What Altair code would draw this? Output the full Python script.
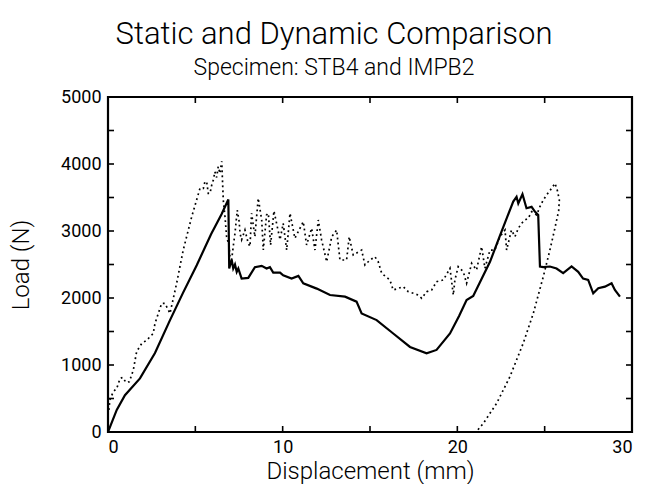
import altair as alt
import pandas as pd

# Static test STB4 (solid line)
static_x = [0, 0.5, 0.97, 1.83, 2.69, 3.55, 4.3, 5.08, 5.9, 6.5, 6.89, 6.94, 7.08, 7.17, 7.27,
            7.37, 7.46, 7.65, 8.03, 8.41, 8.8, 9.08, 9.27, 9.46, 9.85, 10.03, 10.51, 10.9, 11.18,
            11.95, 12.71, 13.57, 14.23, 14.52, 15.38, 16.33, 17.29, 18.24, 18.81, 19.58, 20.1,
            20.53, 20.91, 21.4, 21.87, 22.44, 23.2, 23.39, 23.49, 23.73, 23.96, 24.25, 24.44,
            24.63, 24.73, 24.92, 25.3, 25.68, 26.06, 26.54, 26.92, 27.2, 27.49, 27.78, 28.07,
            28.45, 28.83, 29.02, 29.31]
static_y = [0, 330, 550, 800, 1180, 1670, 2080, 2490, 2950, 3250, 3470, 2440, 2570, 2440, 2500,
            2390, 2440, 2290, 2300, 2460, 2480, 2440, 2460, 2380, 2380, 2340, 2290, 2330, 2220,
            2140, 2045, 2020, 1945, 1770, 1670, 1470, 1270, 1175, 1225, 1470, 1730,
            1970, 2030, 2290, 2540, 2930, 3440, 3510, 3410, 3550, 3340, 3360, 3290,
            3240, 2470, 2460, 2470, 2440, 2370, 2470, 2390, 2290, 2270, 2070, 2145,
            2170, 2220, 2120, 2020]

# Dynamic test IMPB2 (dotted line), in recorded order (loading then unloading)
dyn_x = [0.05, 0.11, 0.3, 0.5, 0.69, 0.84, 1.03, 1.22, 1.45, 1.64, 1.93, 2.21, 2.4, 2.59, 2.69,
         3.07, 3.26, 3.55, 3.93, 4.31, 4.79, 5.27, 5.46, 5.55, 5.65, 5.74, 5.84, 5.95, 6.03,
         6.12, 6.22, 6.31, 6.41, 6.51, 6.6, 6.7, 6.79, 6.94, 6.98, 7.08, 7.17, 7.27, 7.4, 7.51,
         7.56, 7.65, 7.84, 8.03, 8.13, 8.22, 8.41, 8.6, 8.8, 8.89, 9.08, 9.18, 9.31, 9.5, 9.85,
         10.03, 10.23, 10.42, 10.7, 11.18, 11.37, 11.66, 11.85, 12.04, 12.23, 12.52, 12.81,
         13.09, 13.28, 13.66, 13.81, 14.04, 14.52, 14.71, 15.0, 15.28, 15.47, 15.67, 16.14,
         16.33, 16.9, 17.19, 17.48, 17.76, 17.96, 18.24, 18.53, 18.81, 19.2, 19.58, 19.77,
         19.86, 20.05, 20.34, 20.53, 20.82, 21.1, 21.39, 21.58, 21.87, 22.15, 22.44, 22.73,
         22.82, 23.1, 23.3, 23.49, 23.68, 23.87, 24.06, 24.25, 24.54, 24.73, 24.92, 25.11,
         25.4, 25.59, 25.72, 25.84, 25.8, 25.55, 25.3, 24.92, 24.35, 23.77, 23.01, 22.25,
         21.49, 21.07]
dyn_y = [330, 480, 600, 650, 800, 815, 740, 750, 925, 1200, 1320, 1370, 1420, 1470, 1620,
         1920, 1920, 1770, 2220, 2720, 3210, 3640, 3637, 3736, 3736, 3562, 3560, 3700, 3760,
         3885, 3800, 3960, 3860, 4040, 3460, 3210, 2915, 2770, 2620, 2570, 2770, 2965, 3310, 3140,
         2965, 2870, 3015, 2816, 2770, 3264, 2915, 3490, 3164, 2716, 3240, 3264, 2791, 3300, 2870,
         3114, 2716, 3264, 2891, 3139, 2791, 3040, 2716, 3164, 2866, 2542, 2915,
         3015, 2567, 2567, 2915, 2642, 2716, 2493, 2567, 2617, 2542, 2368, 2269,
         2119, 2169, 2094, 2070, 2045, 1995, 2094, 2119, 2244, 2269, 2443, 2045,
         2269, 2467, 2393, 2219, 2518, 2418, 2766, 2443, 2716, 2716, 2915, 3015,
         2716, 3015, 2915, 3040, 3114, 3164, 3189, 3288, 3239, 3363, 3463, 3537,
         3637, 3711, 3612, 3463, 3300, 3000, 2716, 2318, 1771, 1323, 825, 428,
         130, 0]

x_labels = [0, 10, 20, 30]
x_ticks = [0, 5, 10, 15, 20, 25, 30]
y_labels = [0, 1000, 2000, 3000, 4000, 5000]
y_ticks = [0, 500, 1000, 1500, 2000, 2500, 3000, 3500, 4000, 4500, 5000]

rows = []
for i, (a, b) in enumerate(zip(static_x, static_y)):
    rows.append({"disp": a, "load": b, "test": "STB4", "i": i})
for i, (a, b) in enumerate(zip(dyn_x, dyn_y)):
    rows.append({"disp": a, "load": b, "test": "IMPB2", "i": i})
df = pd.DataFrame(rows)
xt = pd.DataFrame({"disp": x_ticks})
yt = pd.DataFrame({"load": y_ticks})

W, H = 524, 335
TL = 6
FONT = "Roboto"
xs = alt.Scale(domain=[0, 30], nice=False, zero=False)
ys = alt.Scale(domain=[0, 5000], nice=False)

base = alt.Chart(df)

static = base.transform_filter(alt.datum.test == "STB4").mark_line(
    color="black", strokeWidth=2.2, clip=True
).encode(
    x=alt.X("disp:Q", scale=xs, axis=alt.Axis(
        orient="bottom", values=x_labels, format="d", ticks=False, domain=False, grid=False,
        labelFontSize=18, labelFont=FONT, labelColor="black", labelPadding=6,
        title="Displacement (mm)", titleFontSize=24, titleFont=FONT, titleFontWeight=300,
        titleColor="black", titlePadding=3)),
    y=alt.Y("load:Q", scale=ys, axis=alt.Axis(
        orient="left", values=y_labels, format="d", ticks=False, domain=False, grid=False,
        labelFontSize=18, labelFont=FONT, labelColor="black", labelPadding=7,
        title="Load (N)", titleFontSize=24, titleFont=FONT, titleFontWeight=300,
        titleColor="black", titlePadding=27)),
    order="i:Q",
)

dynamic = base.transform_filter(alt.datum.test == "IMPB2").mark_line(
    color="black", strokeWidth=1.7, strokeDash=[1.8, 3.2], clip=True
).encode(
    x=alt.X("disp:Q", scale=xs, axis=None),
    y=alt.Y("load:Q", scale=ys, axis=None),
    order="i:Q",
)

tick_style = dict(color="black", strokeWidth=1.6)
tb = alt.Chart(xt).mark_rule(**tick_style).encode(
    x=alt.X("disp:Q", scale=xs, axis=None), y=alt.value(H), y2=alt.value(H - TL))
tt = alt.Chart(xt).mark_rule(**tick_style).encode(
    x=alt.X("disp:Q", scale=xs, axis=None), y=alt.value(0), y2=alt.value(TL))
tl = alt.Chart(yt).mark_rule(**tick_style).encode(
    y=alt.Y("load:Q", scale=ys, axis=None), x=alt.value(0), x2=alt.value(TL))
tr = alt.Chart(yt).mark_rule(**tick_style).encode(
    y=alt.Y("load:Q", scale=ys, axis=None), x=alt.value(W), x2=alt.value(W - TL))

chart = alt.layer(static, dynamic, tb, tt, tl, tr).resolve_axis(
    x="independent", y="independent"
).properties(
    width=W, height=H,
    autosize=alt.AutoSizeParams(type="none"),
    padding={"left": 100, "top": 89, "right": 5, "bottom": 52},
    background="white",
    title=alt.TitleParams(
        text="Static and Dynamic Comparison", subtitle="Specimen: STB4 and IMPB2",
        font=FONT, subtitleFont=FONT, fontSize=31, subtitleFontSize=23,
        fontWeight=300, subtitleFontWeight=300, color="black", subtitleColor="black",
        anchor="middle", dx=-36, offset=7, subtitlePadding=6),
).configure_view(stroke="black", strokeWidth=2.2)

chart.save("out.html", embed_options={"renderer": "svg", "actions": False})
